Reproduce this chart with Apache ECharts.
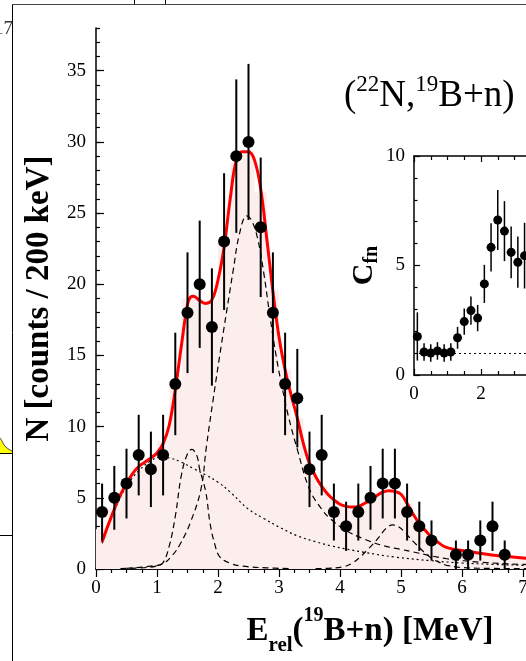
<!DOCTYPE html>
<html>
<head>
<meta charset="utf-8">
<script src="https://cdn.jsdelivr.net/npm/echarts@6/dist/echarts.min.js"></script>
<style>
html, body { margin: 0; padding: 0; background: #fff; overflow: hidden; }
/* the source figure is cropped on the right, so the chart runs past the window */
#chart { width: 600px; height: 661px; }
</style>
</head>
<body>
<div id="chart"></div>
<script>
// measured spectrum, 200 keV bins
var energy = [0.1, 0.3, 0.5, 0.7, 0.9, 1.1, 1.3, 1.5, 1.7, 1.9, 2.1, 2.3, 2.5, 2.7, 2.9, 3.1, 3.3,
	3.5, 3.7, 3.9, 4.1, 4.3, 4.5, 4.7, 4.9, 5.1, 5.3, 5.5, 5.9, 6.1, 6.3, 6.5, 6.7];
var counts = [4, 5, 6, 8, 7, 8, 13, 18, 20, 17, 23, 29, 30, 24, 18, 13, 12,
	7, 8, 4, 3, 4, 5, 6, 6, 4, 3, 2, 1, 1, 2, 3, 1];
var countErr = [2.0, 2.24, 2.45, 2.83, 2.65, 2.83, 3.6, 4.24, 4.47, 4.12, 4.8, 5.39, 5.48, 4.9, 4.24, 3.6, 3.46,
	2.65, 2.83, 2.0, 1.73, 2.0, 2.24, 2.45, 2.45, 2.0, 1.73, 1.41, 1.0, 1.0, 1.41, 1.73, 1.0];

// total fit (red)
var fitX = [0.1, 0.2, 0.3, 0.4, 0.5, 0.6, 0.7, 0.8, 0.9, 1.0, 1.1, 1.2, 1.3, 1.4, 1.5, 1.55, 1.6, 1.7, 1.8, 1.9,
	2.0, 2.1, 2.2, 2.3, 2.4, 2.5, 2.6, 2.7, 2.8, 2.9, 3.0, 3.1, 3.2, 3.3, 3.4, 3.5, 3.6, 3.7, 3.8, 3.9,
	4.0, 4.1, 4.2, 4.3, 4.4, 4.5, 4.6, 4.7, 4.8, 4.9, 5.0, 5.1, 5.2, 5.3, 5.4, 5.5, 5.6, 5.7, 5.8,
	6.0, 6.3, 6.6, 7.0, 7.5, 8.0];
var fitY = [1.9, 3.1, 4.2, 5.2, 6.0, 6.7, 7.2, 7.5, 7.8, 8.15, 8.8, 10.1, 12.6, 15.7, 18.6, 19.1, 19.15, 18.85, 18.65, 18.9,
	20.3, 22.6, 26.0, 28.7, 29.3, 29.3, 28.7, 26.7, 23.2, 19.5, 16.3, 14.0, 12.2, 10.6, 8.8, 7.4, 6.5, 5.8, 5.25, 4.85,
	4.55, 4.4, 4.35, 4.4, 4.6, 4.85, 5.15, 5.4, 5.5, 5.45, 5.25, 4.6, 3.85, 3.2, 2.7, 2.25, 1.9, 1.6, 1.45,
	1.3, 1.1, 0.93, 0.78, 0.65, 0.55];

// fit as histogram (pink), bin centres
var histX = [0.1, 0.3, 0.5, 0.7, 0.9, 1.1, 1.3, 1.5, 1.7, 1.9, 2.1, 2.3, 2.5, 2.7, 2.9, 3.1, 3.3, 3.5, 3.7, 3.9,
	4.1, 4.3, 4.5, 4.7, 4.9, 5.1, 5.3, 5.5, 5.7, 5.9, 6.1, 6.3, 6.5, 6.7, 6.9, 7.1, 7.3, 7.5, 7.7, 7.9];
var histY = [2.8, 4.3, 6.0, 7.2, 7.8, 9.0, 12.8, 19.0, 18.9, 18.9, 22.8, 28.6, 29.3, 26.5, 19.6, 14.0, 10.6, 7.4, 5.8, 4.85,
	4.4, 4.4, 4.85, 5.4, 5.45, 4.6, 3.2, 2.25, 1.6, 1.35, 1.25, 1.1, 1.0, 0.93, 0.85, 0.78, 0.72, 0.66, 0.6, 0.55];

// components
var broadX = [0.1, 0.3, 0.5, 0.7, 0.9, 1.05, 1.2, 1.4, 1.6, 1.8, 2.0, 2.2, 2.5, 2.75, 3.0, 3.3, 3.6, 3.85,
	4.4, 4.9, 5.5, 6.0, 6.5, 7.0, 7.5, 8.0];
var broadY = [1.8, 4.1, 5.8, 6.9, 7.6, 7.85, 7.8, 7.5, 7.05, 6.6, 6.1, 5.4, 4.2, 3.55, 2.95, 2.33, 1.92, 1.63,
	1.17, 0.84, 0.58, 0.42, 0.33, 0.26, 0.2, 0.16];

var peak1X = [0.4, 0.8, 1.0, 1.1, 1.2, 1.3, 1.4, 1.5, 1.57, 1.65, 1.7, 1.8, 1.87, 1.95, 2.03, 2.2, 2.4, 2.8, 3.2];
var peak1Y = [0.03, 0.1, 0.22, 0.45, 1.6, 3.7, 6.6, 8.1, 8.4, 8.0, 7.0, 5.4, 3.2, 1.7, 0.85, 0.4, 0.2, 0.08, 0.03];

var peak2X = [0.5, 0.9, 1.1, 1.25, 1.38, 1.55, 1.72, 1.81, 1.92, 2.05, 2.19, 2.25, 2.35, 2.47, 2.55, 2.65, 2.75,
	2.85, 2.96, 3.05, 3.15, 3.3, 3.5, 3.7, 3.85, 4.1, 4.4, 4.7, 5.0, 5.2, 5.5, 5.75, 6.3, 7.0, 8.0];
var peak2Y = [0.05, 0.2, 0.38, 0.95, 1.75, 3.3, 5.6, 8.6, 11.9, 15.6, 19.4, 21.0, 23.5, 24.8, 24.5, 23.2, 20.8,
	17.8, 14.8, 12.8, 10.8, 8.4, 5.6, 4.2, 3.5, 2.7, 2.1, 1.65, 1.38, 1.2, 0.92, 0.72, 0.48, 0.32, 0.2];

var peak3X = [3.6, 3.8, 4.05, 4.2, 4.32, 4.45, 4.54, 4.65, 4.72, 4.8, 4.86, 4.95, 5.05, 5.14, 5.22, 5.3, 5.4,
	5.52, 5.65, 5.75, 6.0, 6.5, 7.0, 8.0];
var peak3Y = [0.02, 0.05, 0.15, 0.4, 0.8, 1.35, 1.75, 2.3, 2.7, 3.0, 3.1, 3.0, 2.65, 2.2, 1.85, 1.5, 1.1,
	0.7, 0.42, 0.26, 0.1, 0.04, 0.02, 0.01];

// inset: C_fn
var cfnX = [0.1, 0.3, 0.5, 0.7, 0.9, 1.1, 1.3, 1.5, 1.7, 1.9, 2.1, 2.3, 2.5, 2.7, 2.9, 3.1, 3.3];
var cfnY = [1.76, 1.05, 1.0, 1.1, 1.0, 1.05, 1.7, 2.44, 2.94, 2.6, 4.16, 5.83, 7.08, 6.57, 5.6, 5.15, 5.45];
var cfnErr = [1.1, 0.4, 0.4, 0.4, 0.4, 0.4, 0.5, 0.6, 0.65, 0.6, 0.87, 1.1, 1.37, 1.37, 1.18, 1.17, 1.5];

var mainTicksX = { min: 0, max: 8, interval: 1 };
var mainTicksY = { min: 0, max: 38, interval: 5 };
var insetTicksX = { min: 0, max: 4, interval: 2 };
var insetTicksY = { min: 0, max: 10, interval: 5 };

var serif = "'Liberation Serif', 'Times New Roman', serif";

function pairs(xs, ys) {
	var out = [];
	for (var i = 0; i < xs.length; i++) out.push([xs[i], ys[i]]);
	return out;
}

function histSteps(xs, ys) {
	var out = [];
	for (var i = 0; i < xs.length; i++) out.push([xs[i] - 0.1, ys[i]]);
	out.push([xs[xs.length - 1] + 0.1, ys[ys.length - 1]]);
	return out;
}

function errorBars(xs, ys, es, xi, yi, w) {
	var data = [];
	for (var i = 0; i < xs.length; i++) data.push([xs[i], ys[i], es[i]]);
	return {
		type: 'custom',
		xAxisIndex: xi,
		yAxisIndex: yi,
		z: 4,
		silent: true,
		data: data,
		renderItem: function (params, api) {
			var x = api.value(0), y = api.value(1), e = api.value(2);
			var lo = api.coord([x, Math.max(0, y - e)]);
			var hi = api.coord([x, y + e]);
			return {
				type: 'line',
				shape: { x1: lo[0], y1: lo[1], x2: hi[0], y2: hi[1] },
				style: { stroke: '#000', lineWidth: w }
			};
		}
	};
}

function component(xs, ys, dash) {
	return {
		type: 'line',
		xAxisIndex: 0,
		yAxisIndex: 0,
		data: pairs(xs, ys),
		smooth: 0.4,
		symbol: 'none',
		z: 2,
		lineStyle: { color: '#000', width: 1.2, type: dash }
	};
}

function xAxisDef(grid, ticks, pos, showLabel, major, minor, minorSplit) {
	return {
		type: 'value',
		gridIndex: grid,
		position: pos,
		min: ticks.min,
		max: ticks.max,
		interval: ticks.interval,
		axisLine: { lineStyle: { color: '#000', width: 1.5 } },
		axisTick: { inside: true, length: major, lineStyle: { color: '#000', width: 1.2 } },
		minorTick: { show: true, splitNumber: minorSplit, length: minor, lineStyle: { color: '#000', width: 1.2 } },
		axisLabel: { show: showLabel, color: '#000', fontSize: 19, fontFamily: serif, margin: 10 },
		splitLine: { show: false }
	};
}

var option = {
	animation: false,
	backgroundColor: '#fff',
	title: {
		left: 339,
		top: 68,
		text: '{m|(}{s|22}{m|N,}{s|19}{m|B+n)}',
		textStyle: {
			fontWeight: 'normal',
			rich: {
				m: { fontFamily: serif, fontWeight: 'normal', fontSize: 37, lineHeight: 46, color: '#000' },
				s: { fontFamily: serif, fontWeight: 'normal', fontSize: 23, lineHeight: 21, verticalAlign: 'top', color: '#000' }
			}
		}
	},
	grid: [
		{ left: 96, right: 16, top: 28, bottom: 89 },
		{ left: 414, right: 52, top: 156, bottom: 286, show: true, backgroundColor: '#fff', borderWidth: 0 }
	],
	xAxis: [
		Object.assign(xAxisDef(0, mainTicksX, 'bottom', true, 8, 4, 4), {
			name: '{m|E}{sub|rel}{m|(}{sup|19}{m|B+n) [MeV]}',
			nameLocation: 'middle',
			nameGap: 37,
			nameTextStyle: {
				padding: [0, 0, 0, 60],
				rich: {
					m: { fontFamily: serif, fontWeight: 'bold', fontSize: 33, lineHeight: 50, color: '#000' },
					sup: { fontFamily: serif, fontWeight: 'bold', fontSize: 20, lineHeight: 28, verticalAlign: 'top', color: '#000' },
					sub: { fontFamily: serif, fontWeight: 'bold', fontSize: 21, lineHeight: 15, verticalAlign: 'bottom', color: '#000' }
				}
			}
		}),
		xAxisDef(0, mainTicksX, 'top', false, 8, 4, 4),
		xAxisDef(1, insetTicksX, 'bottom', true, 6, 4, 4),
		xAxisDef(1, insetTicksX, 'top', false, 6, 4, 4)
	],
	yAxis: [
		{
			type: 'value',
			gridIndex: 0,
			position: 'left',
			min: mainTicksY.min,
			max: mainTicksY.max,
			interval: mainTicksY.interval,
			axisLine: { lineStyle: { color: '#000', width: 1.5 } },
			axisTick: { inside: true, length: 8, lineStyle: { color: '#000', width: 1.2 } },
			axisLabel: { color: '#000', fontSize: 19, fontFamily: serif, margin: 10, showMaxLabel: false },
			splitLine: { show: false },
			name: 'N [counts / 200 keV]',
			nameLocation: 'middle',
			nameGap: 36,
			nameTextStyle: { fontFamily: serif, fontWeight: 'bold', fontSize: 33, color: '#000' }
		},
		{
			type: 'value',
			gridIndex: 1,
			position: 'left',
			min: insetTicksY.min,
			max: insetTicksY.max,
			interval: insetTicksY.interval,
			axisLine: { lineStyle: { color: '#000', width: 1.5 } },
			axisTick: { inside: true, length: 6, lineStyle: { color: '#000', width: 1.2 } },
			minorTick: { show: true, splitNumber: 5, length: 3.5, lineStyle: { color: '#000', width: 1.2 } },
			axisLabel: { color: '#000', fontSize: 19, fontFamily: serif, margin: 9 },
			splitLine: { show: false },
			name: '{m|C}{sub|fn}',
			nameLocation: 'middle',
			nameGap: 31,
			nameTextStyle: {
				rich: {
					m: { fontFamily: serif, fontWeight: 'bold', fontSize: 30, lineHeight: 36, color: '#000' },
					sub: { fontFamily: serif, fontWeight: 'bold', fontSize: 20, lineHeight: 16, verticalAlign: 'bottom', color: '#000' }
				}
			}
		},
		{
			// minor ticks every 1 count on the main axis
			type: 'value',
			gridIndex: 0,
			position: 'left',
			min: 0,
			max: 38,
			interval: 1,
			axisLine: { show: false },
			axisTick: { inside: true, length: 4, lineStyle: { color: '#000', width: 1.2 } },
			axisLabel: { show: false },
			splitLine: { show: false }
		}
	],
	series: [
		{
			type: 'line',
			xAxisIndex: 0,
			yAxisIndex: 0,
			data: histSteps(histX, histY),
			step: 'end',
			symbol: 'none',
			z: 1,
			lineStyle: { width: 0 },
			areaStyle: { color: '#fdeeee', opacity: 1 }
		},
		component(broadX, broadY, [2, 3]),
		component(peak1X, peak1Y, [6, 4]),
		component(peak2X, peak2Y, [6, 4]),
		component(peak3X, peak3Y, [6, 4]),
		{
			type: 'line',
			xAxisIndex: 0,
			yAxisIndex: 0,
			data: pairs(fitX, fitY),
			smooth: 0.4,
			symbol: 'none',
			z: 3,
			lineStyle: { color: '#ff0000', width: 3 }
		},
		errorBars(energy, counts, countErr, 0, 0, 2),
		{
			type: 'scatter',
			xAxisIndex: 0,
			yAxisIndex: 0,
			data: pairs(energy, counts),
			symbol: 'circle',
			symbolSize: 12,
			z: 5,
			itemStyle: { color: '#000', opacity: 1 }
		},
		errorBars(cfnX, cfnY, cfnErr, 2, 1, 1.5),
		{
			type: 'scatter',
			xAxisIndex: 2,
			yAxisIndex: 1,
			data: pairs(cfnX, cfnY),
			symbol: 'circle',
			symbolSize: 9,
			z: 5,
			itemStyle: { color: '#000', opacity: 1 },
			markLine: {
				silent: true,
				symbol: 'none',
				label: { show: false },
				lineStyle: { color: '#000', width: 1, type: [2, 3] },
				data: [{ yAxis: 1 }]
			}
		}
	],
	// edge of the neighbouring panel, cut off in the source picture
	graphic: [
		{ type: 'line', shape: { x1: 12.5, y1: 4, x2: 12.5, y2: 661 }, style: { stroke: '#000', lineWidth: 1 } },
		{ type: 'line', shape: { x1: 12, y1: 4.5, x2: 600, y2: 4.5 }, style: { stroke: '#444', lineWidth: 1 } },
		{ type: 'line', shape: { x1: 134.5, y1: 0, x2: 134.5, y2: 4 }, style: { stroke: '#000', lineWidth: 1 } },
		{ type: 'line', shape: { x1: 165.5, y1: 0, x2: 165.5, y2: 4 }, style: { stroke: '#000', lineWidth: 1 } },
		{ type: 'text', x: 13, y: 29, style: { text: '17', fill: '#333', font: "19px 'Liberation Serif', serif", textAlign: 'right', textVerticalAlign: 'middle' } },
		{ type: 'polygon', shape: { points: [[0, 438], [2, 441], [4, 445], [7, 448], [10, 450], [12, 451], [12, 453], [0, 453]] }, style: { fill: '#ffff00' } },
		{ type: 'polyline', shape: { points: [[0, 438], [2, 441], [4, 445], [7, 448], [10, 450], [12, 451]] }, style: { stroke: '#555', lineWidth: 1, fill: null } },
		{ type: 'line', shape: { x1: 0, y1: 453.5, x2: 12, y2: 453.5 }, style: { stroke: '#000', lineWidth: 1 } },
		{ type: 'line', shape: { x1: 0, y1: 535.5, x2: 12, y2: 535.5 }, style: { stroke: '#000', lineWidth: 1 } }
	]
};

var chart = echarts.init(document.getElementById('chart'));
chart.setOption(option);
</script>
</body>
</html>
